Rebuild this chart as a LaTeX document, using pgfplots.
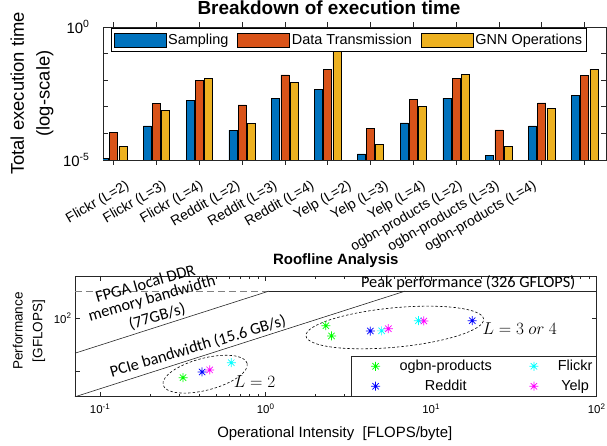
\documentclass[border=0pt]{standalone}
\usepackage{pgfplots}
\pgfplotsset{compat=1.18}
\usepackage{fontspec}
\setmainfont{Liberation Sans}
\newfontfamily\calibri{Carlito}
\definecolor{mblue}{RGB}{0,114,189}
\definecolor{morange}{RGB}{217,83,25}
\definecolor{myellow}{RGB}{237,177,32}
\definecolor{axgray}{RGB}{38,38,38}
\pgfdeclareplotmark{mstar}{%
  \pgfpathmoveto{\pgfqpoint{-\pgfplotmarksize}{0pt}}%
  \pgfpathlineto{\pgfqpoint{\pgfplotmarksize}{0pt}}%
  \pgfpathmoveto{\pgfqpoint{0pt}{-\pgfplotmarksize}}%
  \pgfpathlineto{\pgfqpoint{0pt}{\pgfplotmarksize}}%
  \pgfpathmoveto{\pgfqpoint{-.7071\pgfplotmarksize}{-.7071\pgfplotmarksize}}%
  \pgfpathlineto{\pgfqpoint{.7071\pgfplotmarksize}{.7071\pgfplotmarksize}}%
  \pgfpathmoveto{\pgfqpoint{-.7071\pgfplotmarksize}{.7071\pgfplotmarksize}}%
  \pgfpathlineto{\pgfqpoint{.7071\pgfplotmarksize}{-.7071\pgfplotmarksize}}%
  \pgfusepathqstroke}
\pgfplotsset{
  barleg/.style={legend image code/.code={\draw[##1,draw=black] (0bp,-7bp) rectangle (52bp,7bp);}},
  markleg/.style={legend image code/.code={\path[draw=none,fill=none] (0bp,0bp) (44bp,0bp); \draw[##1] plot coordinates {(22bp,0bp)};}},
}
\begin{document}
\begin{tikzpicture}
\useasboundingbox (0bp,0bp) rectangle (607bp,446bp);
% ---------------- top: breakdown ----------------
\begin{axis}[
  at={(103bp,286bp)}, anchor=south west, scale only axis,
  width=503bp, height=133bp,
  ymode=log, log origin=infty, ymin=1e-5, ymax=1,
  xmin=-0.25, xmax=11.5,
  ybar=1.2bp, bar width=8bp,
  xtick={0,1,2,3,4,5,6,7,8,9,10,11},
  xticklabels={,,,,,,,,,,,},
  extra x ticks={0.007,0.8715,1.736,2.6005,3.465,4.3295,5.194,6.0585,6.923,7.7875,8.652,9.5165},
  extra x tick labels={Flickr (L=2),Flickr (L=3),Flickr (L=4),Reddit (L=2),Reddit (L=3),Reddit (L=4),Yelp (L=2),Yelp (L=3),Yelp (L=4),ogbn-products (L=2),ogbn-products (L=3),ogbn-products (L=4)},
  extra x tick style={major tick length=0pt},
  xticklabel style={rotate=30, anchor=north east, inner sep=0pt, yshift=-22bp, font=\fontsize{14}{15}\selectfont},
  ytick={1e-5,1e-4,1e-3,1e-2,1e-1,1},
  yticklabels={10\textsuperscript{-5},,,,,10\textsuperscript{0}},
  yminorticks=false,
  yticklabel style={font=\fontsize{15}{16}\selectfont, xshift=-10bp},
  major tick length=5bp,
  axis line style={axgray, line width=0.6bp},
  tick style={axgray, line width=0.6bp},
  title={Breakdown of execution time},
  title style={at={(rel axis cs:0.4493,1.047)}, anchor=base, inner sep=0pt, font=\bfseries\fontsize{19}{21}\selectfont},
  ylabel={Total execution time\\(log-scale)},
  ylabel style={at={(rel axis cs:-0.1412,0.5)}, anchor=center, align=center, font=\fontsize{18.5}{26}\selectfont},
  legend columns=3,
  legend style={at={(rel axis cs:0.4888,0.990)}, anchor=north, draw=black, line width=0.6bp,
    font=\fontsize{14.5}{16}\selectfont, inner xsep=2bp, inner ysep=3.5bp,
    /tikz/every even column/.append style={column sep=7bp}},
]
\addplot[fill=mblue, draw=black, line width=0.6bp, barleg] coordinates {
 (0,1.15e-5) (1,1.9e-4) (2,1.74e-3) (3,1.32e-4) (4,2.14e-3) (5,4.6e-3)
 (6,1.7e-5) (7,2.5e-4) (8,2.1e-3) (9,1.5e-5) (10,1.9e-4) (11,2.7e-3)};
\addlegendentry{Sampling}
\addplot[fill=morange, draw=black, line width=0.6bp, barleg] coordinates {
 (0,1.07e-4) (1,1.38e-3) (2,1.0e-2) (3,1.17e-3) (4,1.58e-2) (5,2.6e-2)
 (6,1.55e-4) (7,1.9e-3) (8,1.2e-2) (9,1.35e-4) (10,1.4e-3) (11,1.5e-2)};
\addlegendentry{Data Transmission}
\addplot[fill=myellow, draw=black, line width=0.6bp, barleg] coordinates {
 (0,3.16e-5) (1,7.4e-4) (2,1.2e-2) (3,2.3e-4) (4,8.1e-3) (5,0.15)
 (6,3.9e-5) (7,1.0e-3) (8,1.66e-2) (9,3.3e-5) (10,8.9e-4) (11,2.6e-2)};
\addlegendentry{GNN Operations}
\end{axis}
% ---------------- bottom: roofline ----------------
\begin{axis}[
  at={(75bp,49.5bp)}, anchor=south west, scale only axis,
  width=521.7bp, height=120.5bp,
  xmode=log, ymode=log,
  xmin=0.0705, xmax=100, ymin=3.34, ymax=628,
  xtick={0.1,1,10,100},
  xticklabels={10\textsuperscript{-1},10\textsuperscript{0},10\textsuperscript{1},10\textsuperscript{2}},
  ytick={10,100},
  yticklabels={,10\textsuperscript{2}},
  yminorticks=false,
  ticklabel style={font=\fontsize{11.5}{12}\selectfont},
  xticklabel style={yshift=-4bp},
  major tick length=5bp, minor tick length=3bp,
  axis line style={axgray, line width=0.6bp},
  tick style={axgray, line width=0.6bp},
  title={Roofline Analysis},
  title style={at={(rel axis cs:0.5,1.0498)}, anchor=base, inner sep=0pt, font=\bfseries\fontsize{15}{17}\selectfont},
  xlabel={Operational Intensity\ \ [FLOPS/byte]},
  xlabel style={at={(rel axis cs:0.498,-0.340)}, anchor=base, inner sep=0pt, font=\fontsize{15}{17}\selectfont},
  ylabel={Performance\\{}[GFLOPS]},
  ylabel style={at={(rel axis cs:-0.0882,0.5436)}, anchor=center, align=center, font=\fontsize{13.6}{20}\selectfont},
  legend columns=2,
  legend style={at={(rel axis cs:1,0)}, anchor=south east, draw=black!85, line width=0.6bp,
    font=\fontsize{14.5}{16}\selectfont, inner xsep=2bp, inner ysep=2bp, row sep=4bp,
    /tikz/every even column/.append style={column sep=18bp}},
  clip=true,
]
\addplot[gray, dashed, dash pattern=on 7bp off 4bp, line width=0.7bp, forget plot] coordinates {(0.0705,326) (1.048,326)};
\addplot[axgray, line width=0.6bp, forget plot] coordinates {(1.048,326) (100,326)};
\addplot[axgray, line width=0.6bp, forget plot] coordinates {(0.0705,21.93) (1.048,326)};
\addplot[axgray, line width=0.6bp, forget plot] coordinates {(0.0705,3.30) (6.97,326)};
\addplot[only marks, mark=mstar, mark size=4.5bp, color={rgb,255:red,0;green,255;blue,0}, line width=0.7bp, markleg] coordinates {(0.317,7.57) (2.31,72.5) (2.5,46.4)};
\addlegendentry{ogbn-products}
\addplot[only marks, mark=mstar, mark size=4.5bp, color={rgb,255:red,0;green,255;blue,255}, line width=0.7bp, markleg] coordinates {(0.62,14.5) (5.02,57.9) (8.38,90)};
\addlegendentry{Flickr}
\addplot[only marks, mark=mstar, mark size=4.5bp, color={rgb,255:red,0;green,0;blue,255}, line width=0.7bp, markleg] coordinates {(0.413,9.7) (4.29,57.5) (17.7,90)};
\addlegendentry{Reddit}
\addplot[only marks, mark=mstar, mark size=4.5bp, color={rgb,255:red,255;green,0;blue,255}, line width=0.7bp, markleg] coordinates {(0.459,10.6) (5.51,63.6) (9.03,89)};
\addlegendentry{Yelp}
\draw[dashed, dash pattern=on 2.5bp off 2bp, line width=0.6bp, black] (axis cs:0.431,8.81) circle [x radius=43.4bp, y radius=16bp, rotate=14.5];
\draw[dashed, dash pattern=on 2.5bp off 2bp, line width=0.6bp, black] (axis cs:6.03,67.0) circle [x radius=89.2bp, y radius=19.7bp, rotate=5.4];
\node[font=\fontsize{16}{18}\selectfont] at (axis cs:0.858,6.37) {$L = 2$};
\node[font=\fontsize{16}{18}\selectfont] at (axis cs:34.3,64.8) {$L = 3\ or\ 4$};
\end{axis}
% annotations outside clip (same axis coordinates)
\begin{axis}[
  at={(75bp,49.5bp)}, anchor=south west, scale only axis,
  width=521.7bp, height=120.5bp,
  xmode=log, ymode=log,
  xmin=0.0705, xmax=100, ymin=3.34, ymax=628,
  hide axis, clip=false,
]
\node[font=\calibri\fontsize{16.4}{18}\selectfont, rotate=16, inner sep=0pt] at (axis cs:0.1874,456) {FPGA local DDR};
\node[font=\calibri\fontsize{16.4}{18}\selectfont, rotate=16, inner sep=0pt] at (axis cs:0.2057,231) {memory bandwidth};
\node[font=\calibri\fontsize{16.4}{18}\selectfont, rotate=16, inner sep=0pt] at (axis cs:0.2208,107) {(77GB/s)};
\node[font=\calibri\fontsize{16.4}{18}\selectfont, rotate=16.5, inner sep=0pt] at (axis cs:0.39,29.1) {PCIe bandwidth (15.6 GB/s)};
\node[font=\calibri\fontsize{16.4}{18}\selectfont, inner sep=0pt, anchor=west] at (axis cs:3.76,457) {Peak performance (326 GFLOPS)};
\end{axis}
\end{tikzpicture}
\end{document}
